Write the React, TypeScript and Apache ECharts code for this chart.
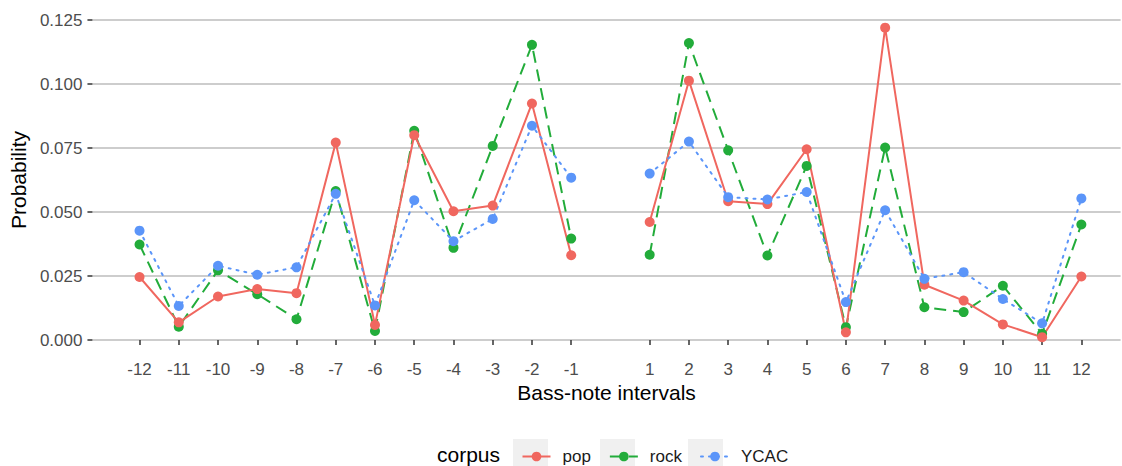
import React, { useEffect, useRef } from "react";
import * as echarts from "echarts";

// Bass-note intervals (x categories)
const intervals: number[] = [-12, -11, -10, -9, -8, -7, -6, -5, -4, -3, -2, -1, 1, 2, 3, 4, 5, 6, 7, 8, 9, 10, 11, 12];

// Probability per corpus, in the order of `intervals`
const pop: number[] = [0.0246, 0.0069, 0.017, 0.0199, 0.0183, 0.0771, 0.0059, 0.08, 0.0503, 0.0525, 0.0924, 0.0331, 0.0461, 0.1013, 0.0542, 0.0531, 0.0745, 0.003, 0.122, 0.0216, 0.0154, 0.0061, 0.0011, 0.0248];
const rock: number[] = [0.0373, 0.0052, 0.0272, 0.0179, 0.0081, 0.0582, 0.0035, 0.0817, 0.036, 0.0758, 0.1153, 0.0396, 0.0333, 0.116, 0.0741, 0.033, 0.068, 0.005, 0.0752, 0.0128, 0.0109, 0.0212, 0.0024, 0.0451];
const ycac: number[] = [0.0427, 0.0133, 0.029, 0.0255, 0.0284, 0.0571, 0.0135, 0.0546, 0.0386, 0.0473, 0.0837, 0.0634, 0.065, 0.0775, 0.0558, 0.0549, 0.0578, 0.0148, 0.0507, 0.0239, 0.0265, 0.016, 0.0065, 0.0553];

const seriesNames: string[] = ["pop", "rock", "YCAC"];
const colors: string[] = ["#F0675F", "#22AC3A", "#5B95F9"];

const yMin = 0;
const yMax = 0.125;
const yStep = 0.025;

// Continuous-looking x scale built from a fine category axis (steps of 0.2)
const xStart = -13.2;
const xEnd = 13.0;
const xFine = 0.2;

function buildCategories(): string[] {
  const out: string[] = [];
  const n = Math.round((xEnd - xStart) / xFine);
  for (let i = 0; i <= n; i++) {
    const v = Math.round((xStart + i * xFine) * 10) / 10;
    out.push(String(v));
  }
  return out;
}

export default function App() {
  const ref = useRef<HTMLDivElement>(null);

  useEffect(() => {
    if (!ref.current) return;
    const chart = echarts.init(ref.current, undefined, { renderer: "svg" });
    const categories = buildCategories();
    const labelSet = new Set(intervals.map((v) => String(v)));
    const isLabel = (_i: number, value: string) => labelSet.has(String(value));

    const toData = (vals: number[]) => {
      const d: any[] = [];
      intervals.forEach((iv, i) => {
        if (iv === 1) d.push([categories.indexOf("0"), "-"]);
        d.push([categories.indexOf(String(iv)), vals[i]]);
      });
      return d;
    };

    const styles: Record<string, any> = {
      pop: { type: "solid" },
      rock: { type: [12, 7] },
      YCAC: { type: [2, 6], cap: "round" },
    };
    const valuesByName: Record<string, number[]> = { pop, rock, YCAC: ycac };
    const drawOrder = ["rock", "pop", "YCAC"];

    const font = "Liberation Sans, Arial, Helvetica, sans-serif";

    chart.setOption({
      animation: false,
      textStyle: { fontFamily: font },
      color: colors,
      grid: { left: 91.2, top: 20, width: 1029.4, height: 320, containLabel: false },
      xAxis: {
        type: "category",
        data: categories,
        boundaryGap: false,
        offset: 13.5,
        axisLine: { show: false },
        axisTick: { show: true, interval: isLabel, length: 5, lineStyle: { color: "#333333", width: 1.5 } },
        axisLabel: { show: true, interval: isLabel, margin: 7, fontSize: 17, color: "#4d4d4d", fontFamily: font },
        splitLine: { show: false },
        name: "Bass-note intervals",
        nameLocation: "middle",
        nameGap: 27,
        nameTextStyle: { fontSize: 21, color: "#000000", fontFamily: font },
      },
      yAxis: {
        type: "value",
        min: yMin,
        max: yMax,
        interval: yStep,
        axisLine: { show: false },
        axisTick: { show: true, length: 5, lineStyle: { color: "#333333", width: 1.5 } },
        axisLabel: { margin: 10, fontSize: 17, color: "#4d4d4d", fontFamily: font, formatter: (v: number) => v.toFixed(3) },
        splitLine: { show: true, lineStyle: { color: "#bdbdbd", width: 1.5 } },
        name: "Probability",
        nameLocation: "middle",
        nameGap: 60,
        nameTextStyle: { fontSize: 21, color: "#000000", fontFamily: font },
      },
      legend: {
        data: seriesNames,
        orient: "horizontal",
        left: 516.5,
        top: 443,
        itemWidth: 28,
        itemHeight: 12,
        itemGap: 18,
        textStyle: { fontSize: 17, color: "#1a1a1a", fontFamily: font, padding: [0, 0, 0, 7] },
        selectedMode: false,
      },
      graphic: [
        { type: "text", left: 437, top: 444, z: 10, style: { text: "corpus", fontSize: 21, fill: "#000000", fontFamily: font } },
        { type: "rect", shape: { x: 513, y: 439, width: 35, height: 35 }, style: { fill: "#f0f0f0" }, z: -1 },
        { type: "rect", shape: { x: 600, y: 439, width: 35, height: 35 }, style: { fill: "#f0f0f0" }, z: -1 },
        { type: "rect", shape: { x: 688, y: 439, width: 35, height: 35 }, style: { fill: "#f0f0f0" }, z: -1 },
      ],
      series: drawOrder.map((name) => {
        const idx = seriesNames.indexOf(name);
        return {
          name,
          type: "line",
          data: toData(valuesByName[name]),
          color: colors[idx],
          symbol: "circle",
          symbolSize: 10,
          showSymbol: true,
          connectNulls: false,
          lineStyle: { width: 2, color: colors[idx], ...styles[name] },
          itemStyle: { color: colors[idx] },
          emphasis: { disabled: true },
        };
      }),
    });

    return () => chart.dispose();
  }, []);

  return <div ref={ref} style={{ position: "absolute", left: 0, top: 0, width: 1122, height: 466 }} />;
}
